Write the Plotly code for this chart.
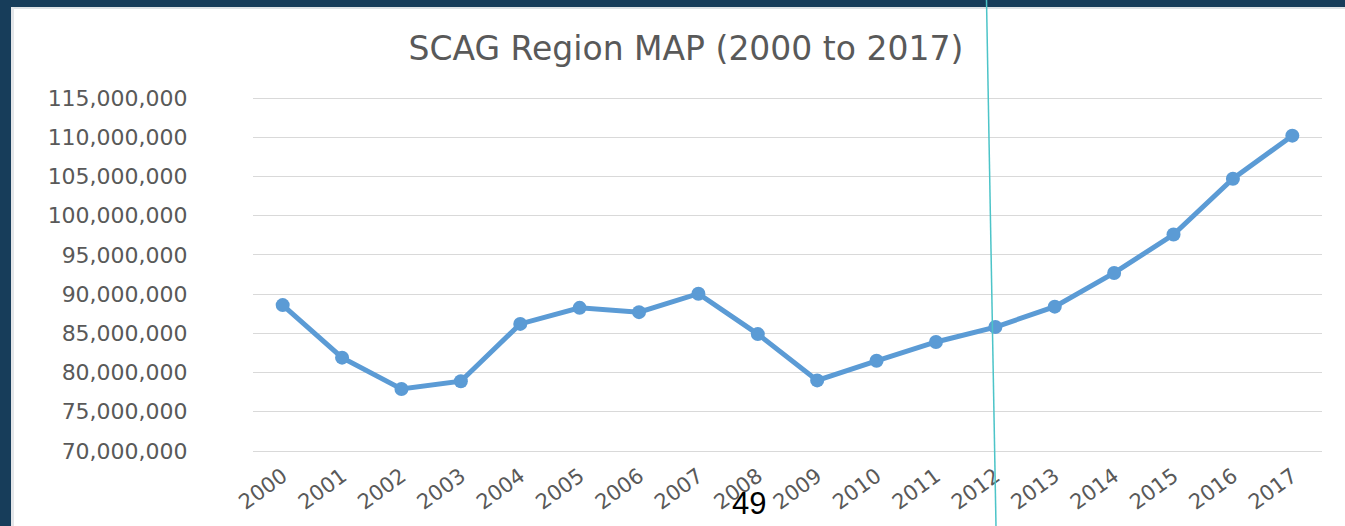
import plotly.graph_objects as go

years = [str(y) for y in range(2000, 2018)]
values = [88.6e6, 81.9e6, 77.9e6, 78.9e6, 86.2e6, 88.25e6, 87.7e6, 90.05e6, 84.9e6,
          79.0e6, 81.5e6, 83.9e6, 85.8e6, 88.4e6, 92.7e6, 97.6e6, 104.7e6, 110.2e6]
y_ticks = list(range(70_000_000, 115_000_001, 5_000_000))
title_text = "SCAG Region MAP (2000 to 2017)"
page_label = "49"

W, H = 1345, 526
PAD = 4
L, R, T, B = 253, 23, 98 - PAD, 75 - PAD
pw, ph = W - L - R, H - T - B
per_px = 45_000_000 / 353
y_lo = 70_000_000 - PAD * per_px
y_hi = 115_000_000 + PAD * per_px

def px_x(x):
    return (x - L) / pw

def px_y(y):
    return (H - B - y) / ph

fig = go.Figure()
fig.add_trace(go.Scatter(
    x=years, y=values, mode="lines+markers",
    line=dict(color="#5b9bd5", width=5),
    marker=dict(color="#5b9bd5", size=14, line=dict(width=0)),
    hoverinfo="x+y",
))

navy = "#173d5a"
shapes = [
    dict(type="rect", xref="paper", yref="paper", x0=px_x(0), x1=px_x(W), y0=px_y(7), y1=px_y(-2),
         fillcolor=navy, line=dict(width=0), layer="above"),
    dict(type="rect", xref="paper", yref="paper", x0=px_x(11), x1=px_x(W), y0=px_y(9), y1=px_y(7),
         fillcolor="#dfe3e6", line=dict(width=0), layer="above"),
    dict(type="rect", xref="paper", yref="paper", x0=px_x(-2), x1=px_x(11), y0=px_y(H + 2), y1=px_y(-2),
         fillcolor=navy, line=dict(width=0), layer="above"),
    dict(type="rect", xref="paper", yref="paper", x0=px_x(11), x1=px_x(14), y0=px_y(H + 2), y1=px_y(7),
         fillcolor="#e3e6e9", line=dict(width=0), layer="above"),
    dict(type="line", xref="paper", yref="paper", x0=px_x(986.5), y0=px_y(0), x1=px_x(996), y1=px_y(H),
         line=dict(color="#4cc4c8", width=1.5), layer="above"),
]

fig.update_layout(
    width=W, height=H, autosize=False,
    margin=dict(l=L, r=R, t=T, b=B, autoexpand=False),
    paper_bgcolor="white", plot_bgcolor="white",
    showlegend=False,
    title=dict(text=title_text, x=0.51, xanchor="center", y=1 - 48 / H, yanchor="middle",
               automargin=False,
               font=dict(family="DejaVu Sans", size=33, color="#595959")),
    xaxis=dict(type="category", range=[-0.5, 17.5], showgrid=False, zeroline=False,
               automargin=False, showline=False, ticks="", tickangle=-36,
               ticklabelstandoff=4,
               tickfont=dict(family="DejaVu Sans", size=21, color="#595959")),
    yaxis=dict(range=[y_lo, y_hi], tickvals=y_ticks, tickformat=",",
               automargin=False,
               showgrid=True, gridcolor="#d9d9d9", gridwidth=1, zeroline=False,
               showline=False, ticks="outside", ticklen=34, tickcolor="rgba(0,0,0,0)",
               ticklabelstandoff=26,
               tickfont=dict(family="DejaVu Sans", size=22, color="#595959")),
    shapes=shapes,
    annotations=[dict(text=page_label, xref="paper", yref="paper", x=px_x(749), y=px_y(503),
                      xanchor="center", yanchor="middle", showarrow=False,
                      font=dict(family="Liberation Sans", size=31, color="black"))],
)

fig.write_html("out.html", config={"displayModeBar": False, "responsive": False},
               post_script="document.body.style.margin='0';document.body.style.overflow='hidden';")
